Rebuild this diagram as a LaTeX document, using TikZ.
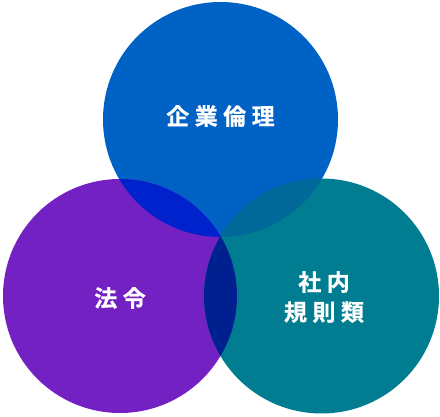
\documentclass[tikz,border=0pt]{standalone}
\usepackage{fontspec}
\newfontfamily\jp{Noto Sans CJK JP Bold}[FakeBold=0.6]
\definecolor{ctop}{HTML}{0062C4}
\definecolor{cleft}{HTML}{7421C4}
\definecolor{cright}{HTML}{007D90}
\definecolor{ctl}{HTML}{0022CC}
\definecolor{ctr}{HTML}{01699A}
\definecolor{clr}{HTML}{00208F}
\definecolor{call}{HTML}{001E8C}
\tikzset{lbl/.style={text=white,font=\jp\fontsize{23}{30}\selectfont,align=center,inner sep=0pt}}
\newcommand{\jsp}{\hspace{5.5pt}}
\begin{document}
\begin{tikzpicture}[x=1pt,y=1pt]
\useasboundingbox (0,0) rectangle (440,416);
\def\cirT{(220.5,296.5) circle (117.5)}
\def\cirL{(120,120) circle (117)}
\def\cirR{(321.5,120) circle (117.5)}
\fill[ctop] \cirT;
\fill[cleft] \cirL;
\fill[cright] \cirR;
\begin{scope}\clip \cirT; \fill[ctl] \cirL; \fill[ctr] \cirR;\end{scope}
\begin{scope}\clip \cirL; \fill[clr] \cirR;\end{scope}
\begin{scope}\clip \cirT; \clip \cirL; \fill[call] \cirR;\end{scope}
\node[lbl] (t) at (220.5,300) {企\jsp 業\jsp 倫\jsp 理};
\node[lbl] (l) at (120,118) {法\jsp 令};
\node[lbl] (r) at (324,119) {社\jsp 内\\規\jsp 則\jsp 類};
\end{tikzpicture}
\end{document}
